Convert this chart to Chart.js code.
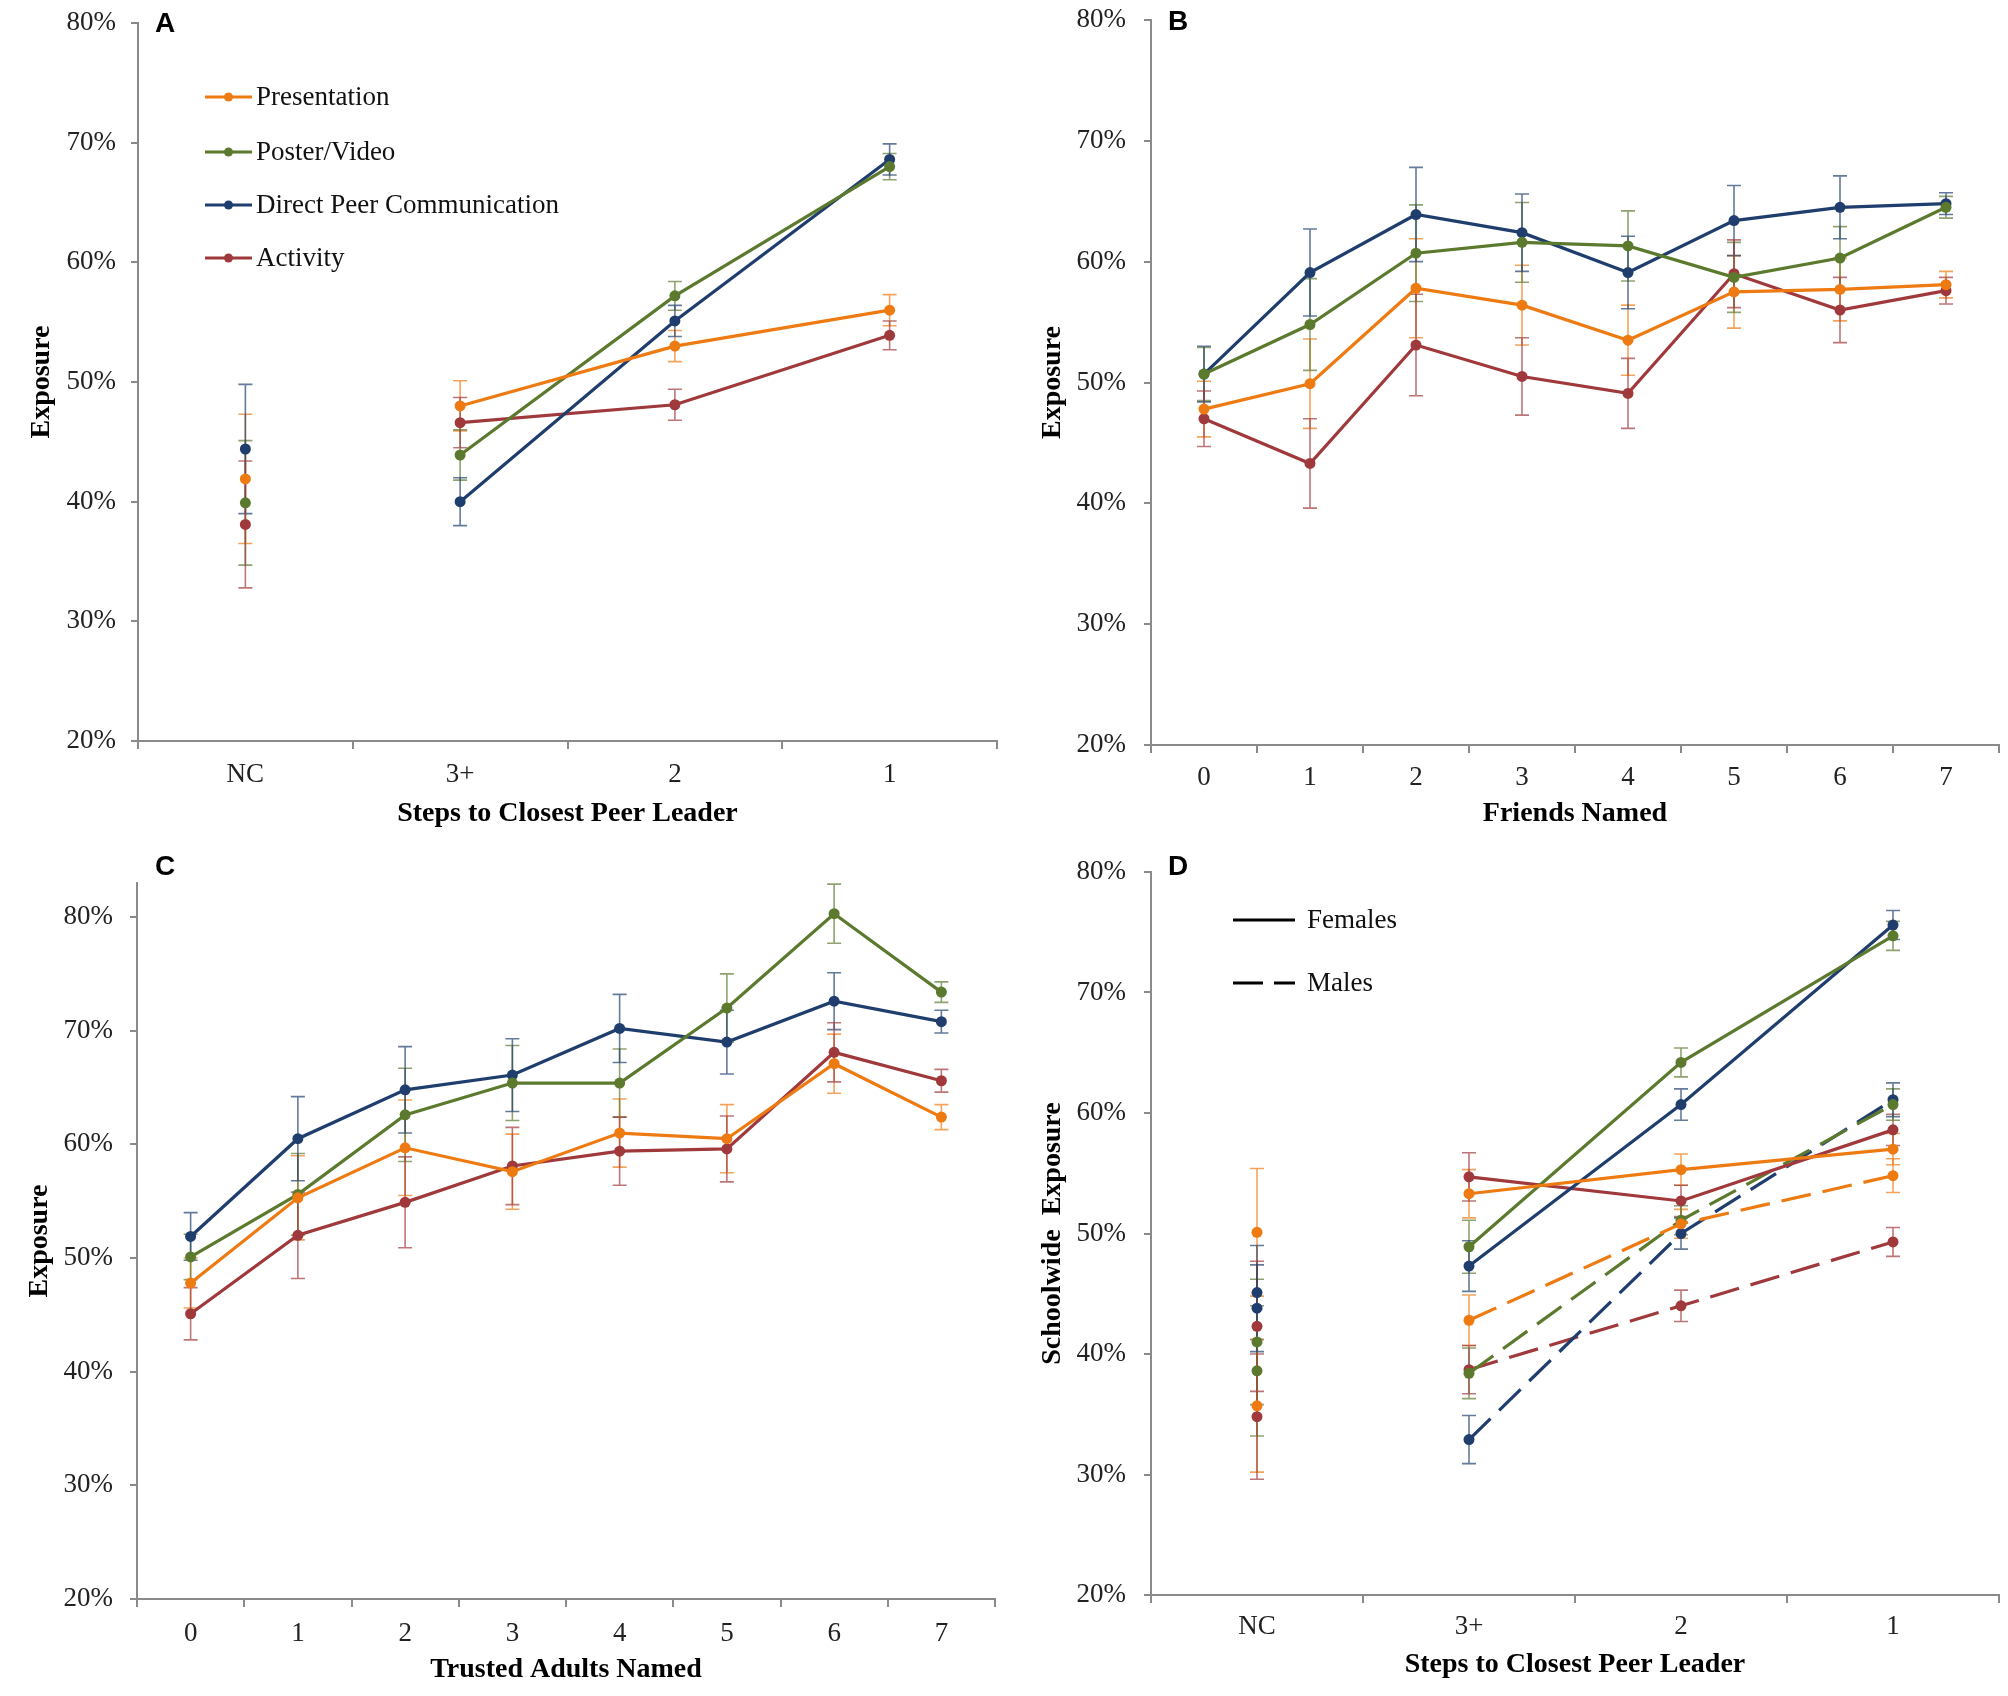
<!DOCTYPE html>
<html>
<head>
<meta charset="utf-8">
<title>Exposure by network position</title>
<script src="https://cdn.jsdelivr.net/npm/chart.js@4.4.1/dist/chart.umd.min.js"></script>
<style>
  body { margin: 0; background: #fff; }
  #wrap { position: relative; width: 2008px; height: 1696px; }
  canvas { position: absolute; }
</style>
</head>
<body>
<div id="wrap">
  <canvas id="chartA" width="1004" height="848" style="left:0;top:0"></canvas>
  <canvas id="chartB" width="1004" height="848" style="left:1004px;top:0"></canvas>
  <canvas id="chartC" width="1004" height="848" style="left:0;top:848px"></canvas>
  <canvas id="chartD" width="1004" height="848" style="left:1004px;top:848px"></canvas>
</div>
<script>
// Categories
const stepLabels = ['NC', '3+', '2', '1'];
const countLabels = ['0', '1', '2', '3', '4', '5', '6', '7'];
const seriesNames = ['Presentation', 'Poster/Video', 'Direct Peer Communication', 'Activity'];
const sexNames = ['Females', 'Males'];

// A: steps to closest peer leader (value, error)
const presA = [41.9, 48.0, 53.0, 56.0];
const presAErr = [5.4, 2.1, 1.3, 1.3];
const posterA = [39.9, 43.9, 57.2, 68.0];
const posterAErr = [5.2, 2.1, 1.2, 1.1];
const directA = [44.4, 40.0, 55.1, 68.6];
const directAErr = [5.4, 2.0, 1.3, 1.3];
const activityA = [38.1, 46.6, 48.1, 53.9];
const activityAErr = [5.3, 2.1, 1.3, 1.2];

// B: friends named
const presB = [47.8, 49.9, 57.8, 56.4, 53.5, 57.5, 57.7, 58.1];
const presBErr = [2.3, 3.7, 4.1, 3.3, 2.9, 3.0, 2.6, 1.1];
const posterB = [50.7, 54.8, 60.7, 61.6, 61.3, 58.7, 60.3, 64.5];
const posterBErr = [2.2, 3.8, 4.0, 3.3, 2.9, 2.9, 2.6, 0.9];
const directB = [50.7, 59.1, 63.9, 62.4, 59.1, 63.4, 64.5, 64.8];
const directBErr = [2.3, 3.6, 3.9, 3.2, 3.0, 2.9, 2.6, 0.9];
const activityB = [47.0, 43.3, 53.1, 50.5, 49.1, 59.0, 56.0, 57.6];
const activityBErr = [2.3, 3.7, 4.2, 3.2, 2.9, 2.8, 2.7, 1.1];

// C: trusted adults named
const presC = [47.8, 55.3, 59.7, 57.6, 61.0, 60.5, 67.1, 62.4];
const presCErr = [2.2, 3.7, 4.2, 3.3, 3.0, 3.0, 2.6, 1.1];
const posterC = [50.1, 55.6, 62.6, 65.4, 65.4, 72.0, 80.3, 73.4];
const posterCErr = [2.0, 3.6, 4.1, 3.3, 3.0, 3.0, 2.6, 0.9];
const directC = [51.9, 60.5, 64.8, 66.1, 70.2, 69.0, 72.6, 70.8];
const directCErr = [2.1, 3.7, 3.8, 3.2, 3.0, 2.8, 2.5, 1.0];
const activityC = [45.1, 52.0, 54.9, 58.1, 59.4, 59.6, 68.1, 65.6];
const activityCErr = [2.3, 3.8, 4.0, 3.4, 3.0, 2.9, 2.6, 1.0];

// D: schoolwide exposure by sex
const presF = [50.1, 53.3, 55.3, 57.0];
const presFErr = [5.3, 2.0, 1.3, 1.3];
const posterF = [41.0, 48.9, 64.2, 74.7];
const posterFErr = [5.2, 2.2, 1.2, 1.2];
const directF = [45.1, 47.3, 60.7, 75.6];
const directFErr = [3.9, 2.1, 1.3, 1.2];
const activityF = [42.3, 54.7, 52.7, 58.6];
const activityFErr = [5.4, 2.0, 1.3, 1.3];
const presM = [35.7, 42.8, 50.8, 54.8];
const presMErr = [5.5, 2.1, 1.2, 1.4];
const posterM = [38.6, 38.4, 51.1, 60.7];
const posterMErr = [5.4, 2.1, 1.2, 1.3];
const directM = [43.8, 32.9, 50.0, 61.1];
const directMErr = [3.6, 2.0, 1.3, 1.4];
const activityM = [34.8, 38.7, 44.0, 49.3];
const activityMErr = [5.2, 2.0, 1.3, 1.2];

// Colours
const ORANGE = '#EE7A12';
const GREEN = '#5C7A2E';
const BLUE = '#1F3E6D';
const RED = '#A0393B';
const AXIS = '#8a8a8a';
const SERIF = '"Liberation Serif", "Times New Roman", serif';

// Error bars drawn from each dataset's errors array
const errorBars = {
  id: 'errorBars',
  beforeDatasetsDraw(chart) {
    const ctx = chart.ctx;
    const yScale = chart.scales.y;
    chart.data.datasets.forEach((ds, i) => {
      if (!ds.errors) return;
      const meta = chart.getDatasetMeta(i);
      ctx.save();
      ctx.strokeStyle = ds.errorColor;
      ctx.lineWidth = 1.6;
      meta.data.forEach((pt, j) => {
        const v = ds.data[j];
        const e = ds.errors[j];
        if (v == null || e == null) return;
        const top = yScale.getPixelForValue(v + e);
        const bot = yScale.getPixelForValue(v - e);
        ctx.beginPath();
        ctx.moveTo(pt.x, top); ctx.lineTo(pt.x, bot);
        ctx.moveTo(pt.x - 7, top); ctx.lineTo(pt.x + 7, top);
        ctx.moveTo(pt.x - 7, bot); ctx.lineTo(pt.x + 7, bot);
        ctx.stroke();
      });
      ctx.restore();
    });
  }
};

// Panel letter and the hand placed legends
const panelDecor = {
  id: 'panelDecor',
  afterDraw(chart, args, opts) {
    const ctx = chart.ctx;
    ctx.save();
    ctx.fillStyle = '#000';
    ctx.textBaseline = 'middle';
    ctx.textAlign = 'center';
    ctx.font = 'bold 28px "Liberation Sans", Arial, sans-serif';
    ctx.fillText(opts.letter, opts.letterX, opts.letterY);

    ctx.textAlign = 'left';
    ctx.font = '27px ' + SERIF;
    (opts.legend || []).forEach(item => {
      ctx.strokeStyle = item.color;
      ctx.lineWidth = 3;
      ctx.setLineDash(item.dash || []);
      ctx.beginPath();
      ctx.moveTo(item.x0, item.y);
      ctx.lineTo(item.x1, item.y);
      ctx.stroke();
      ctx.setLineDash([]);
      if (item.dot) {
        ctx.fillStyle = item.color;
        ctx.beginPath();
        ctx.arc((item.x0 + item.x1) / 2, item.y, 4.5, 0, Math.PI * 2);
        ctx.fill();
      }
      ctx.fillStyle = '#111';
      ctx.fillText(item.text, item.textX, item.y + 1);
    });
    ctx.restore();
  }
};

function series(label, values, errors, color, dashed, skipFirst) {
  return {
    label: label,
    data: values,
    errors: errors,
    borderColor: color,
    backgroundColor: color,
    errorColor: color + 'B0',
    borderWidth: 3.2,
    borderDash: dashed ? [30, 12] : [],
    pointRadius: 5.5,
    pointHoverRadius: 5.5,
    pointBorderWidth: 0,
    pointBackgroundColor: color,
    tension: 0,
    segment: {
      // NC is not joined to the other steps
      borderColor: c => (skipFirst && c.p0DataIndex === 0) ? 'rgba(0,0,0,0)' : undefined
    }
  };
}

function makePanel(id, labels, datasets, p) {
  const ctx = document.getElementById(id).getContext('2d');
  return new Chart(ctx, {
    type: 'line',
    data: { labels: labels, datasets: datasets },
    options: {
      responsive: false,
      animation: false,
      devicePixelRatio: 1,
      layout: { padding: { left: 0, top: p.top, right: p.right, bottom: 0 } },
      plugins: {
        legend: { display: false },
        tooltip: { enabled: false },
        panelDecor: { letter: p.letter, letterX: p.letterX, letterY: p.letterY, legend: p.legend }
      },
      scales: {
        x: {
          type: 'category',
          offset: true,
          grid: { offset: true, drawOnChartArea: false, tickLength: 8, color: AXIS, lineWidth: 2 },
          border: { color: AXIS, width: 2 },
          ticks: { color: '#222', padding: p.xTickPad, font: { family: SERIF, size: 27 } },
          title: {
            display: true, text: p.xTitle, color: '#000',
            padding: { top: 0, bottom: p.xTitlePad },
            font: { family: SERIF, size: 28, weight: 'bold' }
          },
          afterFit: s => { s.height = p.xHeight; s.paddingLeft = 0; s.paddingRight = 0; }
        },
        y: {
          min: 20,
          max: p.max,
          grid: { drawOnChartArea: false, tickLength: 7, color: AXIS, lineWidth: 2 },
          border: { color: AXIS, width: 2 },
          ticks: {
            stepSize: 10, color: '#222', padding: p.yTickPad,
            font: { family: SERIF, size: 27 },
            callback: v => v + '%'
          },
          title: {
            display: true, text: p.yTitle, color: '#000',
            padding: { top: p.yTitlePad, bottom: 0 },
            font: { family: SERIF, size: 28, weight: 'bold' }
          },
          afterBuildTicks: s => { s.ticks = s.ticks.filter(t => t.value <= 80); },
          // fixed width, and no extra room above the top label
          afterFit: s => { s.width = p.yWidth; s.paddingTop = 0; s.paddingBottom = 0; }
        }
      }
    },
    plugins: [errorBars, panelDecor]
  });
}

function legendA() {
  const rows = [97, 152, 205, 258];
  const colors = [ORANGE, GREEN, BLUE, RED];
  return seriesNames.map((name, i) => ({
    text: name, color: colors[i], y: rows[i], x0: 205, x1: 252, textX: 256, dot: true
  }));
}

document.addEventListener('DOMContentLoaded', () => {
  makePanel('chartA', stepLabels, [
    series(seriesNames[0], presA, presAErr, ORANGE, false, true),
    series(seriesNames[1], posterA, posterAErr, GREEN, false, true),
    series(seriesNames[2], directA, directAErr, BLUE, false, true),
    series(seriesNames[3], activityA, activityAErr, RED, false, true)
  ], {
    top: 23, right: 7, yWidth: 138, xHeight: 107, max: 80,
    xTickPad: 10, yTickPad: 15, xTitlePad: 17, yTitlePad: 25,
    xTitle: 'Steps to Closest Peer Leader', yTitle: 'Exposure',
    letter: 'A', letterX: 165, letterY: 24, legend: legendA()
  });

  makePanel('chartB', countLabels, [
    series(seriesNames[0], presB, presBErr, ORANGE, false, false),
    series(seriesNames[1], posterB, posterBErr, GREEN, false, false),
    series(seriesNames[2], directB, directBErr, BLUE, false, false),
    series(seriesNames[3], activityB, activityBErr, RED, false, false)
  ], {
    top: 20, right: 9, yWidth: 147, xHeight: 103, max: 80,
    xTickPad: 9, yTickPad: 18, xTitlePad: 17, yTitlePad: 32,
    xTitle: 'Friends Named', yTitle: 'Exposure',
    letter: 'B', letterX: 174, letterY: 22
  });

  makePanel('chartC', countLabels, [
    series(seriesNames[0], presC, presCErr, ORANGE, false, false),
    series(seriesNames[1], posterC, posterCErr, GREEN, false, false),
    series(seriesNames[2], directC, directCErr, BLUE, false, false),
    series(seriesNames[3], activityC, activityCErr, RED, false, false)
  ], {
    top: 35, right: 9, yWidth: 137, xHeight: 97, max: 83,
    xTickPad: 11, yTickPad: 17, xTitlePad: 9, yTitlePad: 23,
    xTitle: 'Trusted Adults Named', yTitle: 'Exposure',
    letter: 'C', letterX: 165, letterY: 19
  });

  makePanel('chartD', stepLabels, [
    series(seriesNames[0] + ' ' + sexNames[0], presF, presFErr, ORANGE, false, true),
    series(seriesNames[1] + ' ' + sexNames[0], posterF, posterFErr, GREEN, false, true),
    series(seriesNames[2] + ' ' + sexNames[0], directF, directFErr, BLUE, false, true),
    series(seriesNames[3] + ' ' + sexNames[0], activityF, activityFErr, RED, false, true),
    series(seriesNames[0] + ' ' + sexNames[1], presM, presMErr, ORANGE, true, true),
    series(seriesNames[1] + ' ' + sexNames[1], posterM, posterMErr, GREEN, true, true),
    series(seriesNames[2] + ' ' + sexNames[1], directM, directMErr, BLUE, true, true),
    series(seriesNames[3] + ' ' + sexNames[1], activityM, activityMErr, RED, true, true)
  ], {
    top: 24, right: 9, yWidth: 147, xHeight: 101, max: 80,
    xTickPad: 8, yTickPad: 18, xTitlePad: 14, yTitlePad: 32,
    xTitle: 'Steps to Closest Peer Leader', yTitle: 'Schoolwide  Exposure',
    letter: 'D', letterX: 174, letterY: 19,
    legend: [
      { text: sexNames[0], color: '#000', y: 72, x0: 229, x1: 291, textX: 303 },
      { text: sexNames[1], color: '#000', y: 135, x0: 229, x1: 291, textX: 303, dash: [30, 11] }
    ]
  });
});
</script>
</body>
</html>
